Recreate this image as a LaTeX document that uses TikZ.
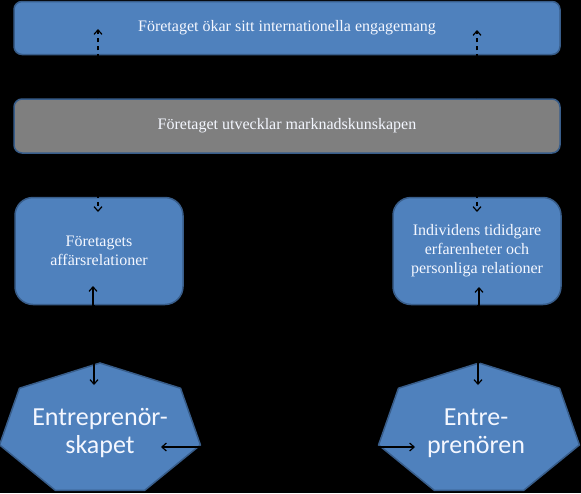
\documentclass[tikz,border=0pt]{standalone}
\usepackage{fontspec}
\setmainfont{Liberation Serif}
\newfontfamily\calib{Carlito}
\usetikzlibrary{arrows.meta}
\definecolor{boxblue}{HTML}{4F81BD}
\definecolor{edgeblue}{HTML}{385D8A}
\definecolor{boxgray}{HTML}{7F7F7F}
\definecolor{txtwhite}{HTML}{F4F7FF}
\tikzset{
  box/.style={draw=edgeblue, line width=1.5pt, fill=boxblue, text=txtwhite, align=center, inner sep=0pt, font=\fontsize{16}{19}\selectfont},
  widebox/.style={box, rounded corners=8pt, minimum width=546pt, minimum height=53pt},
  sidebox/.style={box, rounded corners=18pt, minimum width=168pt, minimum height=107pt},
  hept/.style={draw=edgeblue, line width=1.5pt, fill=boxblue},
  hepttext/.style={text=txtwhite, align=center, inner sep=0pt, font=\calib\fontsize{26}{28}\selectfont},
  tip/.style={-{Straight Barb[length=4.5pt,width=8pt]}},
  conn/.style={tip, draw=black, line width=1.2pt},
  dconn/.style={conn, dash pattern=on 4pt off 4pt},
}
\begin{document}
\begin{tikzpicture}[x=1pt,y=-1pt]
\useasboundingbox (0,0) rectangle (581,493);
\fill[black] (0,0) rectangle (581,493);
% boxes
\node[widebox] (top) at (287,28) {Företaget ökar sitt internationella engagemang};
\node[widebox, fill=boxgray, minimum height=54pt] (mid) at (287,126) {Företaget utvecklar marknadskunskapen};
\node[sidebox] (lbox) at (99,251) {Företagets\\affärsrelationer};
\node[sidebox] (rbox) at (477,251) {Individens tididgare\\erfarenheter och\\personliga relationer};
% heptagons
\coordinate (lhc) at (100,430);
\coordinate (rhc) at (479,430);
\foreach \c in {lhc,rhc}{
  \draw[hept] (\c) +(90:103pt and 67pt) -- +(141.43:103pt and 67pt) -- +(192.86:103pt and 67pt)
    -- +(244.29:103pt and 67pt) -- +(295.71:103pt and 67pt) -- +(347.14:103pt and 67pt)
    -- +(38.57:103pt and 67pt) -- cycle;
}
\coordinate (ltop) at (100,363);
\coordinate (rtop) at (479,363);
\coordinate (lright) at (200,447);
\coordinate (rleft) at (378,447);
\node[hepttext] (lhept) at (100,433) {Entreprenör-\\skapet};
\node[hepttext] (rhept) at (476,433) {Entre-\\prenören};
% connector end points
\coordinate (tl) at (98,29);
\coordinate (tr) at (477,30);
\coordinate (ml) at (98,212);
\coordinate (mr) at (477,212);
\coordinate (ul) at (93,286);
\coordinate (ur) at (479,287);
\coordinate (dl) at (94,385);
\coordinate (dr) at (478,385);
\coordinate (hl) at (161,447);
\coordinate (hr) at (415,447);
% connectors
\draw[dconn] (mid.north -| tl) -- (tl);
\draw[dconn] (mid.north -| tr) -- (tr);
\draw[dconn] (mid.south -| ml) -- (ml);
\draw[dconn] (mid.south -| mr) -- (mr);
\draw[conn] (ltop -| ul) -- (ul);
\draw[conn] (rtop -| ur) -- (ur);
\draw[conn] (lbox.south -| dl) -- (dl);
\draw[conn] (rbox.south -| dr) -- (dr);
\draw[conn] (rleft) -- (hl);
\draw[conn] (lright) -- (hr);
\end{tikzpicture}
\end{document}
